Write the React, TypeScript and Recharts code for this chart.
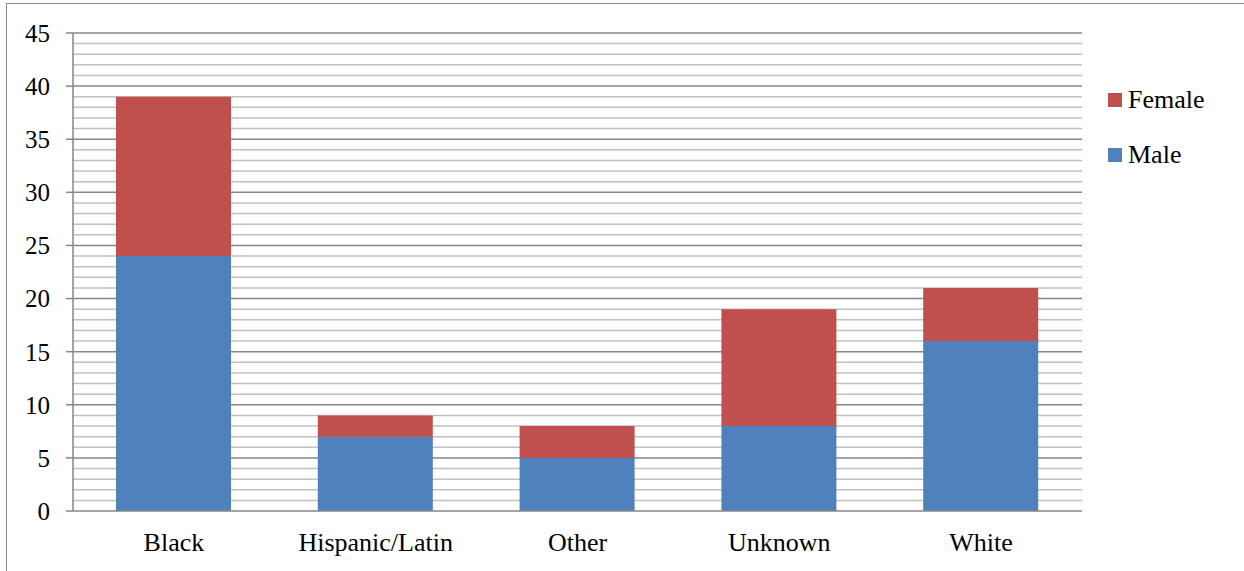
import React from 'react';
import { BarChart, Bar, XAxis, YAxis, CartesianGrid, Legend } from 'recharts';

const categories = ['Black', 'Hispanic/Latin', 'Other', 'Unknown', 'White'];
const maleValues = [24, 7, 5, 8, 16];
const femaleValues = [15, 2, 3, 11, 5];
const yTicks = [0, 5, 10, 15, 20, 25, 30, 35, 40, 45];
const minorValues = Array.from({ length: 46 }, (_, i) => i).filter((v) => v % 5 !== 0);
const majorValues = [5, 10, 15, 20, 25, 30, 35, 40, 45];
const legendOrder = ['Female', 'Male'];

const data = categories.map((c, i) => ({ name: c, Male: maleValues[i], Female: femaleValues[i] }));

const FONT = 'Liberation Serif';

const LegendContent = (props: any) => {
  const items = [...(props.payload || [])].sort(
    (a: any, b: any) => legendOrder.indexOf(a.value) - legendOrder.indexOf(b.value)
  );
  return (
    <div style={{ fontFamily: FONT }}>
      {items.map((it: any) => (
        <div key={it.value} style={{ display: 'flex', alignItems: 'center', height: 55 }}>
          <span style={{ display: 'inline-block', width: 14, height: 14, background: it.color, marginRight: 6 }} />
          <span style={{ fontSize: 26, color: '#000', lineHeight: '26px', fontFamily: FONT }}>{it.value}</span>
        </div>
      ))}
    </div>
  );
};

export default function App() {
  return (
    <div style={{ position: 'absolute', left: 0, top: 0, width: 1244, height: 571, overflow: 'hidden', background: '#fff', fontFamily: FONT }}>
      <div style={{ position: 'absolute', left: 6, top: 3, width: 1400, height: 800, border: '1.5px solid #8a8a8a' }} />
      <div style={{ position: 'absolute', left: 0, top: 0 }}>
        <BarChart width={1244} height={571} data={data} margin={{ top: 33, right: 162, bottom: 0, left: 0 }} style={{ fontFamily: FONT }}>
          <CartesianGrid vertical={false} horizontalValues={minorValues} stroke="#c0c0c0" strokeWidth={1.5} />
          <CartesianGrid vertical={false} horizontalValues={majorValues} stroke="#868686" strokeWidth={1.5} />
          <XAxis
            dataKey="name"
            height={60}
            tickLine={false}
            tickSize={0}
            tickMargin={22}
            axisLine={{ stroke: '#868686', strokeWidth: 1.5 }}
            tick={{ fill: '#000', fontSize: 26, fontFamily: FONT }}
            interval={0}
          />
          <YAxis
            width={73}
            domain={[0, 45]}
            ticks={yTicks}
            interval={0}
            tickSize={7}
            tickMargin={16}
            tickLine={{ stroke: '#868686', strokeWidth: 1.5 }}
            axisLine={{ stroke: '#868686', strokeWidth: 1.5 }}
            tick={{ fill: '#000', fontSize: 25, fontFamily: FONT }}
          />
          <Legend
            layout="vertical"
            verticalAlign="middle"
            align="center"
            content={<LegendContent />}
            wrapperStyle={{ left: 1108, top: 72, width: 130 }}
          />
          <Bar dataKey="Male" stackId="a" fill="#4F81BD" barSize={115} isAnimationActive={false} />
          <Bar dataKey="Female" stackId="a" fill="#C0504D" barSize={115} isAnimationActive={false} />
        </BarChart>
      </div>
    </div>
  );
}
